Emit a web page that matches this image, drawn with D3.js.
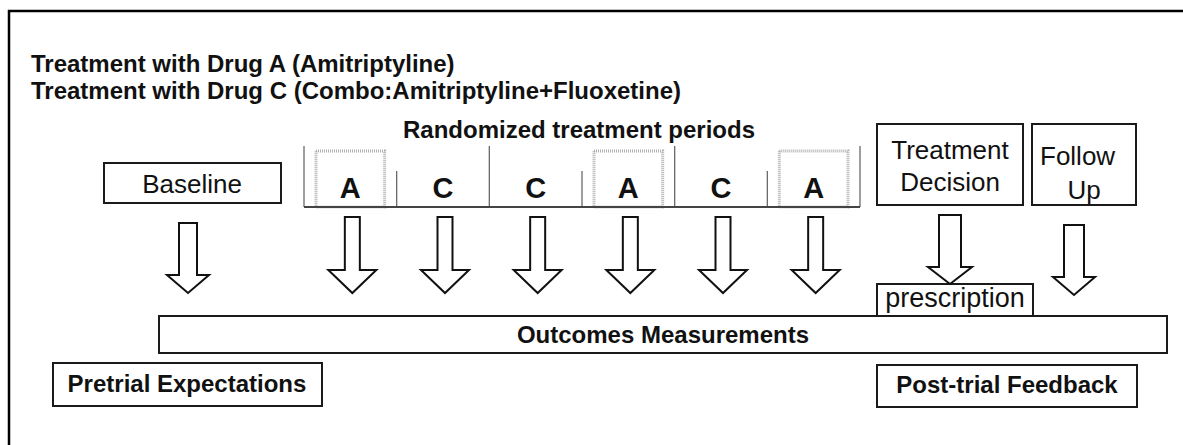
<!DOCTYPE html>
<html>
<head>
<meta charset="utf-8">
<script src="https://cdn.jsdelivr.net/npm/d3@7"></script>
<style>
  body { margin: 0; background: #fff; }
  svg { display: block; }
  text { font-family: "Liberation Sans", Arial, sans-serif; fill: #111; }
</style>
</head>
<body>
<div id="chart"></div>
<script>
// labels of the diagram
let titleLines = ['Treatment with Drug A (Amitriptyline)', 'Treatment with Drug C (Combo:Amitriptyline+Fluoxetine)']
let periodsTitle = 'Randomized treatment periods'
let periods = ['A', 'C', 'C', 'A', 'C', 'A']
let baselineLabel = ['Baseline']
let decisionLabel = ['Treatment', 'Decision']
let followLabel = ['Follow', 'Up']
let prescriptionLabel = 'prescription'
let outcomesLabel = 'Outcomes Measurements'
let pretrialLabel = 'Pretrial Expectations'
let posttrialLabel = 'Post-trial Feedback'

let width = 1183, height = 445

let svg = d3.select('#chart')
  .append('svg')
  .attr('width', width)
  .attr('height', height)

// frame (only top and left edges visible)
svg.append('path')
  .attr('d', 'M9,' + height + 'V11H' + width)
  .attr('fill', 'none')
  .attr('stroke', '#000')
  .attr('stroke-width', 2.5)

// title lines
svg.selectAll('.title')
  .data(titleLines)
  .enter().append('text')
  .attr('class', 'title')
  .attr('x', 31)
  .attr('y', (d, i) => 72 + i * 27)
  .style('font-size', '24px')
  .style('font-weight', 'bold')
  .text(d => d)

// period cells
let x = d3.scaleBand().domain(d3.range(periods.length)).range([304, 860])
let cellBottom = 207

svg.append('text')
  .attr('x', 579)
  .attr('y', 138)
  .style('font-size', '24px')
  .style('font-weight', 'bold')
  .style('text-anchor', 'middle')
  .text(periodsTitle)

// dotted boxes behind A cells
svg.selectAll('.dotbox')
  .data(periods.map((p, i) => ({p, i})).filter(d => d.p === 'A'))
  .enter().append('rect')
  .attr('class', 'dotbox')
  .attr('x', d => x(d.i) + 12)
  .attr('y', 151)
  .attr('width', x.bandwidth() - 24)
  .attr('height', cellBottom - 151)
  .attr('fill', 'none')
  .attr('stroke', '#b0b0b0')
  .attr('stroke-width', 3)
  .attr('stroke-dasharray', '1,1')

// separators between cells, alternating tall / short
svg.selectAll('.sep')
  .data(d3.range(periods.length + 1))
  .enter().append('line')
  .attr('class', 'sep')
  .attr('x1', i => i < periods.length ? x(i) : x.range()[1])
  .attr('x2', i => i < periods.length ? x(i) : x.range()[1])
  .attr('y1', i => i % 2 === 0 ? 146 : 171)
  .attr('y2', cellBottom)
  .attr('stroke', '#6a6a6a')
  .attr('stroke-width', 1.3)

svg.append('line')
  .attr('x1', x.range()[0])
  .attr('x2', x.range()[1])
  .attr('y1', cellBottom)
  .attr('y2', cellBottom)
  .attr('stroke', '#444')
  .attr('stroke-width', 1.8)

svg.selectAll('.period')
  .data(periods)
  .enter().append('text')
  .attr('class', 'period')
  .attr('x', (d, i) => x(i) + x.bandwidth() / 2)
  .attr('y', 198)
  .style('font-size', '29px')
  .style('font-weight', 'bold')
  .style('text-anchor', 'middle')
  .text(d => d)

// boxes with text
function box (bx, by, bw, bh) {
  svg.append('rect')
    .attr('x', bx).attr('y', by)
    .attr('width', bw).attr('height', bh)
    .attr('fill', '#fff')
    .attr('stroke', '#1a1a1a')
    .attr('stroke-width', 2)
}

function label (txt, tx, ty, size, bold, anchor) {
  svg.append('text')
    .attr('x', tx).attr('y', ty)
    .style('font-size', size + 'px')
    .style('font-weight', bold ? 'bold' : 'normal')
    .style('text-anchor', anchor || 'middle')
    .text(txt)
}

box(104, 163, 177, 40)
label(baselineLabel[0], 192, 193, 26, false)

box(877, 124, 146, 81)
decisionLabel.forEach((t, i) => label(t, 950, 159 + i * 32, 26, false))

box(1032, 124, 104, 81)
label(followLabel[0], 1040, 165, 26, false, 'start')
label(followLabel[1], 1084, 199, 26, false)

// block arrows
function arrow (cx, top, shoulder, tip, shaft, head) {
  let p = d3.path()
  p.moveTo(cx - shaft, top)
  p.lineTo(cx + shaft, top)
  p.lineTo(cx + shaft, shoulder)
  p.lineTo(cx + head, shoulder)
  p.lineTo(cx, tip)
  p.lineTo(cx - head, shoulder)
  p.lineTo(cx - shaft, shoulder)
  p.closePath()
  svg.append('path')
    .attr('d', p.toString())
    .attr('fill', '#fff')
    .attr('stroke', '#111')
    .attr('stroke-width', 2)
    .attr('stroke-linejoin', 'miter')
}

arrow(188, 223, 275, 293, 9, 21)
periods.forEach((d, i) => arrow(x(i) + x.bandwidth() / 2 + 2, 217, 270, 293, 7.5, 24))
arrow(1074, 225, 277, 295, 10, 21)

// outcomes bar
box(159, 316, 1008, 37)
label(outcomesLabel, 663, 343, 24, true)

// prescription sits on the bar
box(877, 284, 156, 32)
arrow(950, 215, 267, 284, 11, 22)
label(prescriptionLabel, 955, 307, 27, false)

box(53, 363, 269, 43)
label(pretrialLabel, 187, 392, 24, true)

box(877, 365, 260, 42)
label(posttrialLabel, 1007, 393, 24, true)
</script>
</body>
</html>
